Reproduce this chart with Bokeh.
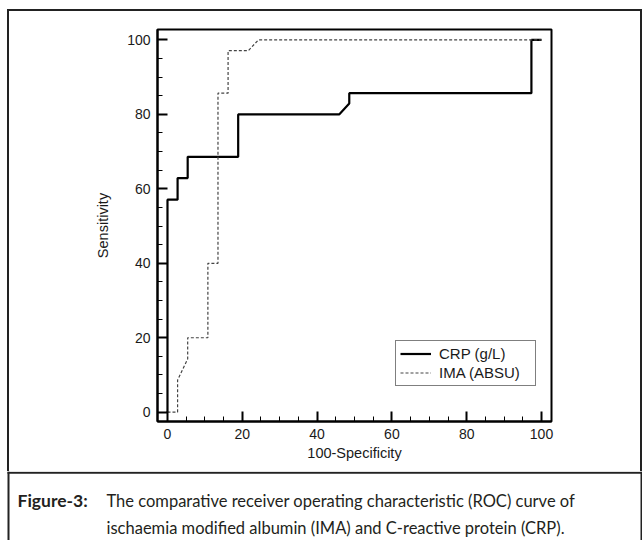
from bokeh.plotting import figure
from bokeh.models import Range1d, SingleIntervalTicker, Legend, LegendItem
from bokeh.core.properties import value
from bokeh.embed import file_html
from bokeh.resources import INLINE

# ---- data ----
crp_x = [0, 0, 2.7, 2.7, 5.4, 5.4, 18.9, 18.9, 45.9, 48.6, 48.6, 97.3, 97.3, 100]
crp_y = [0, 57.1, 57.1, 62.9, 62.9, 68.6, 68.6, 80.0, 80.0, 82.9, 85.7, 85.7, 100, 100]
ima_x = [0, 2.7, 2.7, 5.4, 5.4, 10.8, 10.8, 13.5, 13.5, 16.2, 16.2, 21.6, 24.3, 100]
ima_y = [0, 0, 8.6, 14.3, 20.0, 20.0, 40.0, 40.0, 85.7, 85.7, 97.1, 97.1, 100, 100]
series_names = ["CRP (g/L)", "IMA (ABSU)"]
x_title = "100-Specificity"
y_title = "Sensitivity"
caption_head = "Figure-3:"
caption_lines = ["The comparative receiver operating characteristic (ROC) curve of",
                 "ischaemia modified albumin (IMA) and C-reactive protein (CRP)."]

W = 642
H1 = 471
H2 = 69
BORDER = "#222222"

# ---------------- chart ----------------
p = figure(width=W, height=H1, output_backend="svg", toolbar_location=None,
           x_range=Range1d(-2.67, 102.67), y_range=Range1d(-2.5, 102.8),
           min_border_left=157, min_border_right=91, min_border_top=29,
           min_border_bottom=50)
p.background_fill_color = "white"
p.border_fill_color = None
p.grid.visible = False
p.outline_line_color = "black"
p.outline_line_width = 2
# outer frame of the figure panel (top, left, right edges)
p.styles = {
    "background": (
        f"linear-gradient({BORDER},{BORDER}) 7px 9px / 635px 2px no-repeat, "
        f"linear-gradient({BORDER},{BORDER}) 7px 9px / 2px 462px no-repeat, "
        f"linear-gradient({BORDER},{BORDER}) 640px 9px / 2px 462px no-repeat, white"
    )
}

for ax in (p.xaxis[0], p.yaxis[0]):
    ax.ticker = SingleIntervalTicker(interval=20, num_minor_ticks=4)
    ax.major_tick_in = 10
    ax.major_tick_out = 0
    ax.minor_tick_in = 5
    ax.minor_tick_out = 0
    ax.major_tick_line_width = 2
    ax.minor_tick_line_width = 1
    ax.axis_line_width = 2
    ax.axis_line_color = "black"
    ax.major_tick_line_color = "black"
    ax.minor_tick_line_color = "black"
    ax.major_label_text_font = "Liberation Sans"
    ax.major_label_text_font_size = "14px"
    ax.major_label_text_color = "#1a1a1a"
    ax.axis_label_text_font = "Liberation Sans"
    ax.axis_label_text_font_size = "14.5px"
    ax.axis_label_text_font_style = "normal"
    ax.axis_label_text_color = "#1a1a1a"

p.xaxis.axis_label = x_title
p.yaxis.axis_label = y_title
p.xaxis.major_label_standoff = 7
p.yaxis.major_label_standoff = 7
p.xaxis.axis_label_standoff = 3
p.yaxis.axis_label_standoff = 13

r_crp = p.line(crp_x, crp_y, line_color="black", line_width=2.2)
r_ima = p.line(ima_x, ima_y, line_color="#444444", line_width=1.2, line_dash="3 2")

legend = Legend(items=[LegendItem(label=series_names[0], renderers=[r_crp]),
                       LegendItem(label=series_names[1], renderers=[r_ima])],
                location=(238, 35), margin=0, padding=4, spacing=2,
                glyph_width=31, glyph_height=17, label_height=17, label_standoff=8,
                label_width=92,
                border_line_color="black", border_line_width=1.5,
                label_text_font="Liberation Sans", label_text_font_size="15px",
                label_text_color="#1a1a1a", background_fill_alpha=1)
p.add_layout(legend, "center")

# ---------------- caption panel ----------------
c = figure(width=W, height=H2, output_backend="svg", toolbar_location=None,
           x_range=Range1d(0, W), y_range=Range1d(H2, 0),
           min_border=0, min_border_left=0, min_border_right=0,
           min_border_top=0, min_border_bottom=0)
c.axis.visible = False
c.grid.visible = False
c.outline_line_color = None
c.background_fill_color = "white"
c.border_fill_color = "white"
# divider and side edges of the outer frame
c.segment(x0=[7], y0=[1.3], x1=[W], y1=[1.3], line_color=BORDER, line_width=2)
c.segment(x0=[8, 641], y0=[0, 0], x1=[8, 641], y1=[H2, H2], line_color=BORDER, line_width=2)

cap_font = value("Lato")
c.text(x=[17], y=[29], text=[caption_head], text_font=cap_font, text_font_style="bold",
       text_font_size="17.5px", text_color="#231f20", text_baseline="alphabetic")
c.text(x=[106, 106], y=[29, 56], text=caption_lines, text_font=cap_font,
       text_font_size="16.5px", text_color="#231f20", text_baseline="alphabetic")

open("out.html", "w").write(file_html([p, c], INLINE))
